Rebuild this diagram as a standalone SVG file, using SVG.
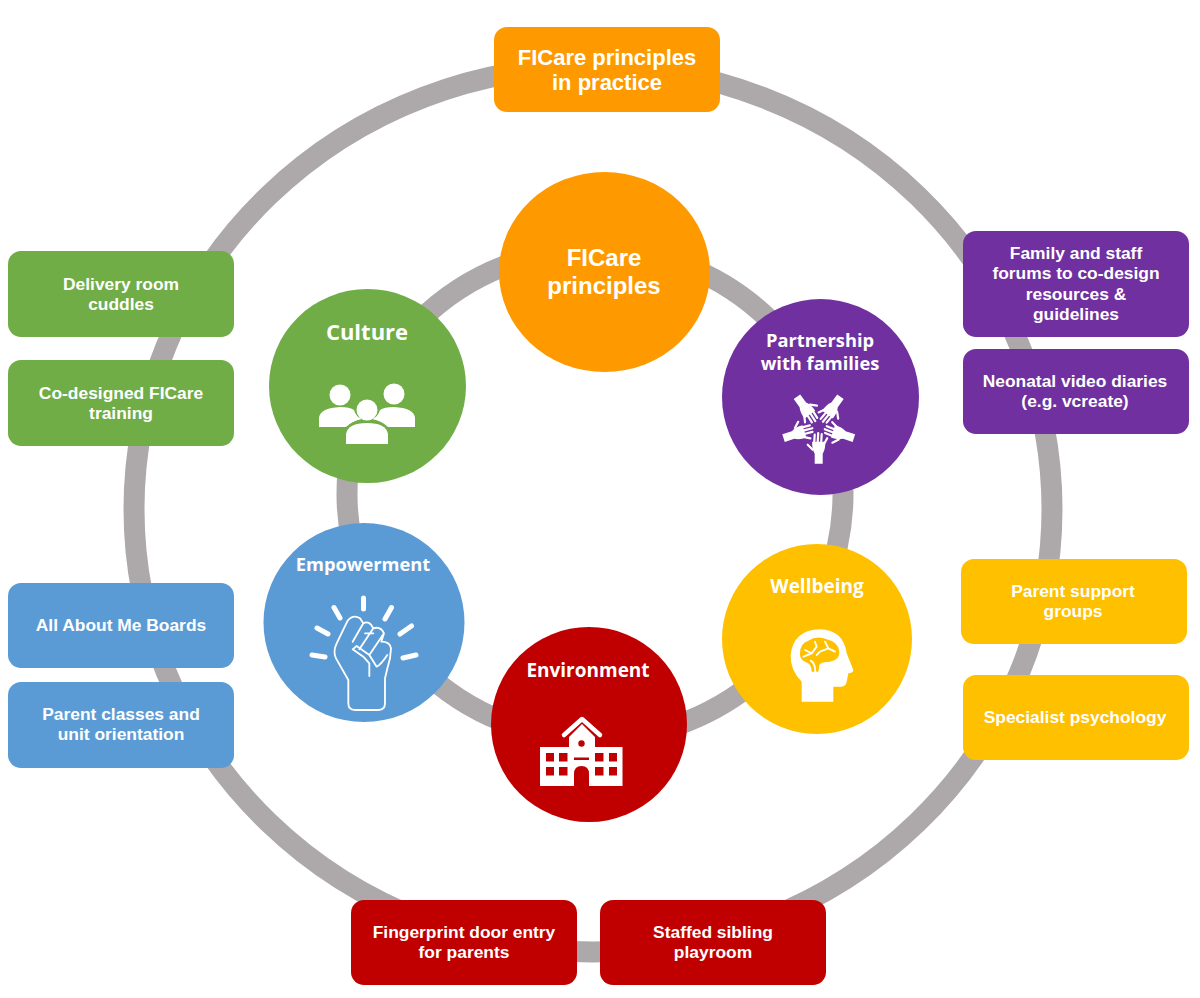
<svg xmlns="http://www.w3.org/2000/svg" xmlns:xlink="http://www.w3.org/1999/xlink" width="1200" height="998" viewBox="0 0 1200 998">
<style>
.ring{fill:none;stroke:#ada9aa}
.box{stroke:none}
.bt{font-family:"Liberation Sans",Arial,sans-serif;font-weight:700;font-size:17.4px;fill:#fff;text-anchor:middle}
.ct{font-family:"Open Sans","Noto Sans",sans-serif;font-weight:700;font-size:18.3px;fill:#fff;text-anchor:middle}
.green{fill:#70ad47}.blue{fill:#5b9bd5}.purple{fill:#7030a0}.yellow{fill:#ffc000}.red{fill:#c00000}.orange{fill:#ff9900}
.ln{fill:none;stroke:#fff;stroke-linecap:round;stroke-linejoin:round}
</style>
<defs>
<g id="hand">
<path fill="#fff" d="M-4 37V27Q-7 22-6.500 15H6.500Q7 22 4 27V37Z"/>
<path class="ln" stroke-width="2.200" d="M-6 23L-11 18M-4.500 16L-4 8M-1 15L-.5 6.500M2.500 15L3 7.500M5.500 17L8.500 11.500"/>
</g>
</defs>
<rect width="1200" height="998" fill="#fff"/>
<g id="connectors">
<ellipse class="ring" cx="593" cy="509" rx="459" ry="443" stroke-width="21"/>
<ellipse class="ring" cx="595" cy="494" rx="248" ry="245" stroke-width="21"/>
</g>
<g id="top-box"><rect class="box orange" x="494" y="27" width="226" height="85" rx="13"/>
<text class="bt" style="font-size:22px" x="607" y="65">FICare principles</text><text class="bt" style="font-size:22px" x="607" y="90">in practice</text></g>
<g id="box-delivery"><rect class="box green" x="8" y="251" width="226" height="86" rx="13"/>
<text class="bt" x="121" y="290">Delivery room</text><text class="bt" x="121" y="310">cuddles</text></g>
<g id="box-training"><rect class="box green" x="8" y="360" width="226" height="86" rx="13"/>
<text class="bt" x="121" y="399">Co-designed FICare</text><text class="bt" x="121" y="419">training</text></g>
<g id="box-boards"><rect class="box blue" x="8" y="583" width="226" height="85" rx="13"/>
<text class="bt" x="121" y="631">All About Me Boards</text></g>
<g id="box-classes"><rect class="box blue" x="8" y="682" width="226" height="86" rx="13"/>
<text class="bt" x="121" y="720">Parent classes and</text><text class="bt" x="121" y="740">unit orientation</text></g>
<g id="box-forums"><rect class="box purple" x="963" y="231" width="226" height="106" rx="13"/>
<text class="bt" x="1076" y="259">Family and staff</text><text class="bt" x="1076" y="279">forums to co-design</text><text class="bt" x="1076" y="300">resources &amp;</text><text class="bt" x="1076" y="320">guidelines</text></g>
<g id="box-diaries"><rect class="box purple" x="963" y="349" width="226" height="85" rx="13"/>
<text class="bt" x="1075" y="387">Neonatal video diaries</text><text class="bt" x="1075" y="407">(e.g. vcreate)</text></g>
<g id="box-groups"><rect class="box yellow" x="961" y="559" width="226" height="85" rx="13"/>
<text class="bt" x="1073" y="597">Parent support</text><text class="bt" x="1073" y="617">groups</text></g>
<g id="box-psychology"><rect class="box yellow" x="963" y="675" width="226" height="85" rx="13"/>
<text class="bt" x="1075" y="723">Specialist psychology</text></g>
<g id="box-fingerprint"><rect class="box red" x="351" y="900" width="226" height="85" rx="13"/>
<text class="bt" x="464" y="938">Fingerprint door entry</text><text class="bt" x="464" y="958">for parents</text></g>
<g id="box-sibling"><rect class="box red" x="600" y="900" width="226" height="85" rx="13"/>
<text class="bt" x="713" y="938">Staffed sibling</text><text class="bt" x="713" y="958">playroom</text></g>

<g id="node-ficare"><ellipse class="orange" cx="604.5" cy="272" rx="105.5" ry="100"/>
<text class="bt" style="font-size:24px" x="604" y="266">FICare</text><text class="bt" style="font-size:24px" x="604" y="294">principles</text></g>

<g id="node-culture"><ellipse class="green" cx="367.5" cy="386" rx="98.5" ry="97"/>
<text class="ct" style="font-size:22px" x="367" y="340">Culture</text>
<g fill="#fff">
<circle cx="340" cy="395" r="10.5"/><circle cx="394" cy="394" r="10.5"/>
<path d="M319 427V418Q320 408 340 407Q350 407 354 410Q356 417 362 419Q352 421 346 427ZM415 427V418Q414 408 394 407Q384 407 380 410Q378 417 372 419Q382 421 388 427Z"/>
<circle cx="367" cy="410" r="10.5"/>
<path d="M346 444V434Q348 423 367 423Q386 423 388 434V444Z"/>
</g></g>

<g id="node-partnership"><ellipse class="purple" cx="820.5" cy="397" rx="98.5" ry="98"/>
<text class="ct" x="820" y="347">Partnership</text><text class="ct" x="820" y="370">with families</text>
<g transform="translate(818.7 426.7)">
<use xlink:href="#hand" href="#hand"/>
<use xlink:href="#hand" href="#hand" transform="rotate(72)"/>
<use xlink:href="#hand" href="#hand" transform="rotate(144)"/>
<use xlink:href="#hand" href="#hand" transform="rotate(216)"/>
<use xlink:href="#hand" href="#hand" transform="rotate(288)"/>
</g></g>

<g id="node-wellbeing"><ellipse class="yellow" cx="817" cy="639" rx="95" ry="95"/>
<text class="ct" style="font-size:19px" x="817" y="593">Wellbeing</text>
<g transform="translate(780 620) scale(.33333)">
<path fill="#fff" d="M65 245V185Q30 150 32 105Q40 30 120 28Q190 30 200 100L220 150Q220 158 205 160L200 185Q198 200 180 200H160V245Z"/>
<path class="yellow" d="M60 100Q60 70 85 62Q110 45 140 58Q175 65 178 95Q180 120 150 125Q125 125 118 135L115 155H95Q95 130 75 125Q58 118 60 100Z"/>
<path fill="none" stroke="#fff" stroke-width="5.500" stroke-linecap="round" stroke-linejoin="round" d="M75 90L95 100L110 80M70 110L95 100M110 80L105 65M120 95L145 85L165 95M145 85L135 65M92 122Q106 130 106 155M120 95L110 105"/>
</g></g>

<g id="node-environment"><ellipse class="red" cx="589" cy="724.500" rx="98" ry="97.500"/>
<text class="ct" style="font-size:19px" x="588" y="677">Environment</text>
<path class="ln" stroke-width="4.500" d="M564 735L582 719L600 735"/>
<path fill="#fff" d="M569 747V737L582 724L595 737V747H622.500V786H540V747Z"/>
<g class="red"><circle cx="581.500" cy="743.500" r="3.200"/>
<rect x="546" y="753" width="8" height="8.500"/><rect x="559" y="753" width="8.500" height="8.500"/>
<rect x="595" y="753" width="8.500" height="8.500"/><rect x="609" y="753" width="8" height="8.500"/>
<rect x="546" y="767" width="8" height="8.500"/><rect x="559" y="767" width="8.500" height="8.500"/>
<rect x="595" y="767" width="8.500" height="8.500"/><rect x="609" y="767" width="8" height="8.500"/>
<rect x="574" y="757.500" width="15" height="2.500"/>
<path d="M574 786V774Q574 766 581.500 766Q589 766 589 774V786Z"/></g></g>

<g id="node-empowerment"><ellipse class="blue" cx="364" cy="622.500" rx="100.500" ry="99.500"/>
<text class="ct" x="363" y="571">Empowerment</text>
<path class="ln" stroke-width="5" d="M363.500 598V609M334 607.500L340 618M391.500 607.500L385 619M317 628L328 634M411.500 626L400 634M312 655L325 657M403 658L416 655"/>
<g transform="translate(310 600) scale(.33333)">
<path class="ln" stroke-width="5.500" d="M115 240L78 175Q68 155 80 130L113 62Q130 42 150 55L160 70Q178 60 190 85Q212 78 222 100L214 125Q240 125 243 145L240 175Q232 205 225 235V310Q225 330 205 330H135Q115 330 115 310ZM160 70L128 125M190 85L148 148M222 100L178 165M128 148L140 138L178 165L200 200Q212 195 232 165M128 148L160 170L178 190V228M165 100L190 100"/>
</g></g>
</svg>
